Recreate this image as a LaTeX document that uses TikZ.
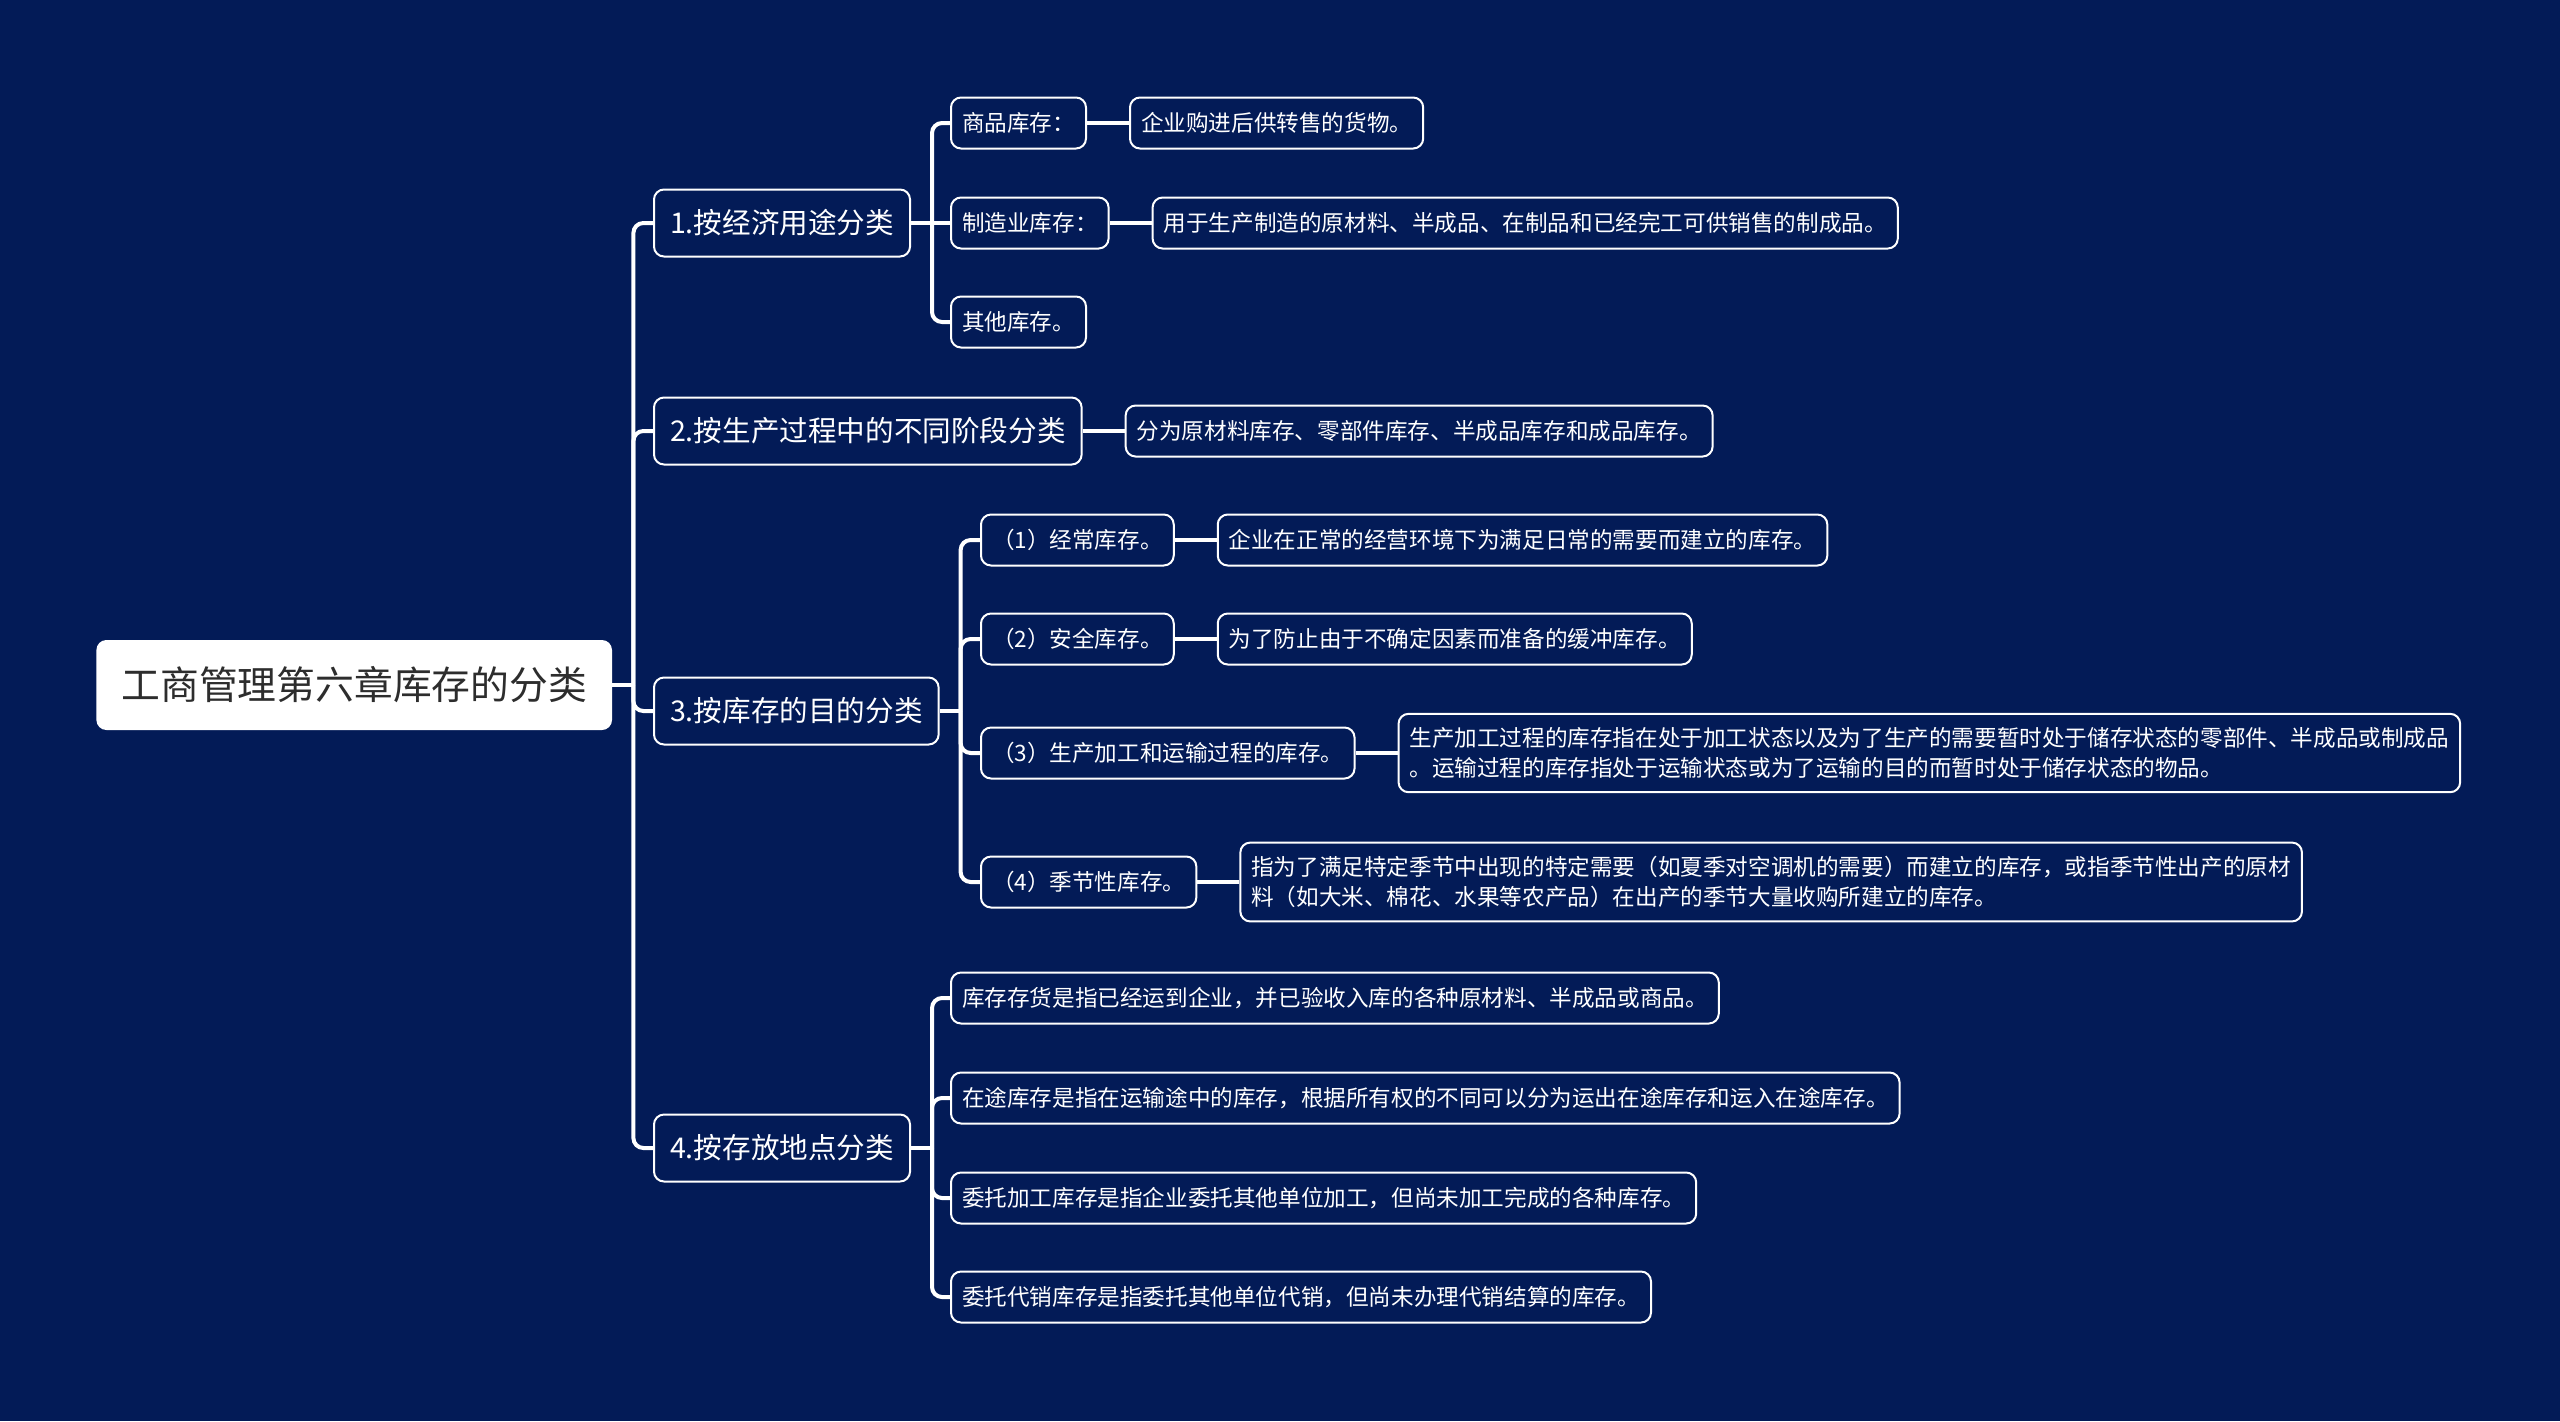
\documentclass[tikz,border=0pt]{standalone}
\usepackage{fontspec}
\setmainfont{Noto Sans CJK SC}
\usepackage{tikz}
\usetikzlibrary{positioning}
\definecolor{bgnavy}{RGB}{3,27,87}
\definecolor{roottext}{RGB}{45,45,45}
\tikzset{
  rootnode/.style={fill=white, text=roottext, rounded corners=5pt,
                   minimum height=45pt, inner xsep=12.5pt, font=\fontsize{19.4}{23}\selectfont},
  catnode/.style={draw=white, line width=1pt, fill=bgnavy, text=white, rounded corners=5pt,
                  minimum height=33.5pt, inner xsep=8pt, font=\fontsize{14.3}{17}\selectfont},
  itemnode/.style={draw=white, line width=1pt, fill=bgnavy, text=white, rounded corners=5pt,
                   minimum height=25.5pt, inner xsep=5.5pt, inner ysep=7pt,
                   font=\fontsize{11.3}{14.7}\selectfont, align=left},
  link/.style={white, line width=2pt, rounded corners=5pt}
}

\begin{document}
\begin{tikzpicture}[x=0.5pt, y=-0.5pt, node distance=21pt]
  \fill[bgnavy] (0,0) rectangle (2560,1421);
  \useasboundingbox (0,0) rectangle (2560,1421);

  \node[rootnode, anchor=west] (root) at (96,685) {工商管理第六章库存的分类};

  % categories
  \node[catnode, anchor=west] (econ) at (653,223) {1.按经济用途分类};
  \node[catnode, anchor=west] (stage) at (653,431) {2.按生产过程中的不同阶段分类};
  \node[catnode, anchor=west] (purpose) at (653,711) {3.按库存的目的分类};
  \node[catnode, anchor=west] (place) at (653,1148) {4.按存放地点分类};

  \coordinate (rootfork) at ([xshift=10.5pt]root.east);
  \draw[link] (root.east) -- (rootfork);
  \foreach \n in {econ,stage,purpose,place}
    \draw[link] (rootfork) |- (\n.west);

  % 1. by economic use
  \node[itemnode, anchor=west] (goods) at (950,123) {商品库存：};
  \node[itemnode, right=of goods] (goodsd) {企业购进后供转售的货物。};
  \node[itemnode, anchor=west] (manuf) at (950,223) {制造业库存：};
  \node[itemnode, right=of manuf] (manufd)
       {用于生产制造的原材料、半成品、在制品和已经完工可供销售的制成品。};
  \node[itemnode, anchor=west] (other) at (950,322) {其他库存。};

  \coordinate (econfork) at ([xshift=10.5pt]econ.east);
  \draw[link] (econ.east) -- (manuf.west);
  \draw[link] (econfork) |- (goods.west);
  \draw[link] (econfork) |- (other.west);
  \draw[link] (goods.east) -- (goodsd.west);
  \draw[link] (manuf.east) -- (manufd.west);

  % 2. by production stage
  \node[itemnode, right=of stage] (staged)
       {分为原材料库存、零部件库存、半成品库存和成品库存。};
  \draw[link] (stage.east) -- (staged.west);

  % 3. by purpose
  \node[itemnode, anchor=west] (regular) at (980,540) {（1）经常库存。};
  \node[itemnode, right=of regular] (regulard)
       {企业在正常的经营环境下为满足日常的需要而建立的库存。};
  \node[itemnode, anchor=west] (safety) at (980,639) {（2）安全库存。};
  \node[itemnode, right=of safety] (safetyd)
       {为了防止由于不确定因素而准备的缓冲库存。};
  \node[itemnode, anchor=west] (transit) at (980,753) {（3）生产加工和运输过程的库存。};
  \node[itemnode, right=of transit] (transitd)
       {生产加工过程的库存指在处于加工状态以及为了生产的需要暂时处于储存状态的零部件、半成品或制成品\\
        。运输过程的库存指处于运输状态或为了运输的目的而暂时处于储存状态的物品。};
  \node[itemnode, anchor=west] (season) at (980,882) {（4）季节性库存。};
  \node[itemnode, right=of season] (seasond)
       {指为了满足特定季节中出现的特定需要（如夏季对空调机的需要）而建立的库存，或指季节性出产的原材\\
        料（如大米、棉花、水果等农产品）在出产的季节大量收购所建立的库存。};

  \coordinate (purposefork) at ([xshift=10.5pt]purpose.east);
  \draw[link] (purpose.east) -- (purposefork);
  \foreach \n in {regular,safety,transit,season}
    \draw[link] (purposefork) |- (\n.west);
  \foreach \n in {regular,safety,transit,season}
    \draw[link] (\n.east) -- (\n d.west);

  % 4. by storage place
  \node[itemnode, anchor=west] (stock) at (950,998)
       {库存存货是指已经运到企业，并已验收入库的各种原材料、半成品或商品。};
  \node[itemnode, anchor=west] (road) at (950,1098)
       {在途库存是指在运输途中的库存，根据所有权的不同可以分为运出在途库存和运入在途库存。};
  \node[itemnode, anchor=west] (proc) at (950,1198)
       {委托加工库存是指企业委托其他单位加工，但尚未加工完成的各种库存。};
  \node[itemnode, anchor=west] (consign) at (950,1297)
       {委托代销库存是指委托其他单位代销，但尚未办理代销结算的库存。};

  \coordinate (placefork) at ([xshift=10.5pt]place.east);
  \draw[link] (place.east) -- (placefork);
  \foreach \n in {stock,road,proc,consign}
    \draw[link] (placefork) |- (\n.west);
\end{tikzpicture}
\end{document}
